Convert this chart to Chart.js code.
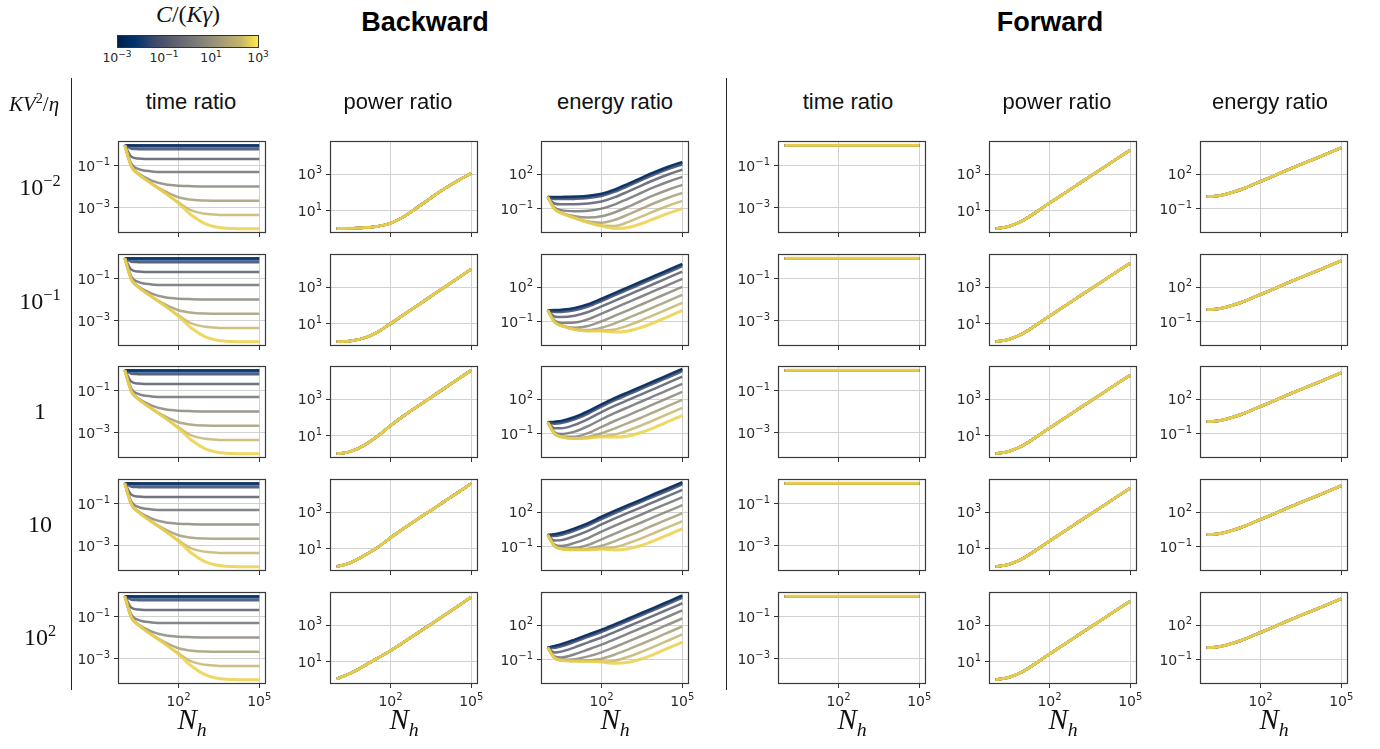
<!DOCTYPE html>
<html>
<head>
<meta charset="utf-8">
<title>Backward / Forward ratios vs N_h</title>
<script src="https://cdn.jsdelivr.net/npm/chart.js@4.4.1/dist/chart.umd.min.js"></script>
<style>
  html, body { margin: 0; padding: 0; background: #fff; }
  #page { position: relative; width: 1380px; height: 749px; overflow: hidden; font-family: "DejaVu Sans", sans-serif; color: #1a1a1a; }
  .txt { position: absolute; white-space: nowrap; transform: translate(-50%, -50%); line-height: 1; }
  .head { font-family: "Liberation Sans", Arial, sans-serif; font-weight: bold; font-size: 27px; color: #000; }
  .coltitle { font-family: "Liberation Sans", Arial, sans-serif; font-size: 22px; color: #111; }
  .math { font-family: "Liberation Serif", "DejaVu Serif", serif; color: #111; }
  .math sup, .math sub { font-size: 68%; }
  .cbtick { font-size: 12.5px; color: #262626; }
  .cbtick sup { font-size: 9px; vertical-align: 5px; }
  .vline { position: absolute; width: 1px; background: #222; }
  canvas.panel { position: absolute; }
  #cbar { position: absolute; left: 117px; top: 35px; width: 140px; height: 11px; border: 1px solid #333;
          background: linear-gradient(to right, #00204d 0%, #00336f 12.5%, #39486b 25%, #575c6d 37.5%, #707173 50%, #8a8779 62.5%, #a69d75 75%, #c4b56c 87.5%, #ffea46 100%); }
</style>
</head>
<body>
<div id="page"></div>
<script>
// ==========================================================================
// Data (stored as log10 exponents)
// ==========================================================================
const N_H = [1, 1.778, 3.162, 10, 31.62, 100, 316.2, 1000, 3162, 10000, 31620, 100000];

// C/(K gamma) of each curve, dark blue -> yellow
const C_VALUES = [0.001, 0.00562, 0.0316, 0.178, 1, 5.62, 31.6, 178, 1000];

const ROW_LABELS = ['10<sup>\u22122</sup>', '10<sup>\u22121</sup>', '1', '10', '10<sup>2</sup>'];
const COL_TITLES = ['time ratio', 'power ratio', 'energy ratio', 'time ratio', 'power ratio', 'energy ratio'];

// tick values and their exponents (label = 10^exp)
const X_TICKS = [100, 100000];
const X_TICK_EXP = ['2', '5'];
const TIME_TICKS = [0.1, 0.001];
const TIME_TICK_EXP = ['\u22121', '\u22123'];
const POWER_TICKS = [1000, 10];
const POWER_TICK_EXP = ['3', '1'];
const ENERGY_TICKS = [100, 0.1];
const ENERGY_TICK_EXP = ['2', '\u22121'];
const CBAR_TICK_EXP = ['\u22123', '\u22121', '1', '3'];

// backward time ratio, same in every row
const timeBwd = [
  [0, 0, 0, 0, 0, 0, 0, 0, 0, 0, 0, 0],
  [0, -0.05, -0.06, -0.06, -0.06, -0.06, -0.06, -0.06, -0.06, -0.06, -0.06, -0.06],
  [0, -0.17, -0.19, -0.2, -0.2, -0.2, -0.2, -0.2, -0.2, -0.2, -0.2, -0.2],
  [0, -0.56, -0.64, -0.67, -0.67, -0.67, -0.67, -0.67, -0.67, -0.67, -0.67, -0.67],
  [0, -0.9, -1.14, -1.26, -1.29, -1.29, -1.29, -1.29, -1.29, -1.29, -1.29, -1.29],
  [0, -1.02, -1.35, -1.7, -1.88, -1.95, -1.97, -1.98, -1.98, -1.98, -1.98, -1.98],
  [0, -1.03, -1.38, -1.84, -2.22, -2.5, -2.62, -2.66, -2.67, -2.67, -2.67, -2.67],
  [0, -1.03, -1.38, -1.85, -2.3, -2.75, -3.15, -3.3, -3.35, -3.36, -3.36, -3.36],
  [0, -1.03, -1.38, -1.85, -2.3, -2.79, -3.38, -3.78, -3.96, -4.01, -4.02, -4.02]
];

// backward power ratio, one curve per row (all C overlap)
const powerBwd1 = [0.02, 0.02, 0.03, 0.06, 0.13, 0.31, 0.68, 1.18, 1.7, 2.2, 2.65, 3.05];
const powerBwd2 = [0, 0.02, 0.05, 0.2, 0.52, 1.0, 1.5, 2.0, 2.5, 3.0, 3.5, 4.0];
const powerBwd3 = [0, 0.05, 0.12, 0.45, 0.95, 1.55, 2.1, 2.6, 3.1, 3.6, 4.1, 4.6];
const powerBwd4 = [0.02, 0.1, 0.22, 0.6, 1.05, 1.6, 2.12, 2.62, 3.1, 3.6, 4.08, 4.58];
const powerBwd5 = [0.05, 0.2, 0.35, 0.75, 1.18, 1.6, 2.08, 2.57, 3.06, 3.55, 4.05, 4.55];

// backward energy ratio, per row, per C
const energyBwd1 = [
  [0.02, 0.02, 0.03, 0.06, 0.13, 0.31, 0.68, 1.18, 1.7, 2.2, 2.65, 3.05],
  [0.02, -0.03, -0.03, 0, 0.07, 0.25, 0.62, 1.12, 1.64, 2.14, 2.59, 2.99],
  [0.02, -0.15, -0.16, -0.14, -0.07, 0.11, 0.48, 0.98, 1.5, 2.0, 2.45, 2.85],
  [0.02, -0.54, -0.61, -0.61, -0.54, -0.36, 0.01, 0.51, 1.03, 1.53, 1.98, 2.38],
  [0.02, -0.88, -1.11, -1.2, -1.16, -0.98, -0.61, -0.11, 0.41, 0.91, 1.36, 1.76],
  [0.02, -1.0, -1.32, -1.64, -1.75, -1.64, -1.29, -0.8, -0.28, 0.22, 0.67, 1.07],
  [0.02, -1.01, -1.35, -1.78, -2.09, -2.19, -1.94, -1.48, -0.97, -0.47, -0.02, 0.38],
  [0.02, -1.01, -1.35, -1.79, -2.17, -2.44, -2.47, -2.12, -1.65, -1.16, -0.71, -0.31],
  [0.02, -1.01, -1.35, -1.79, -2.17, -2.48, -2.7, -2.6, -2.26, -1.81, -1.37, -0.97]
];
const energyBwd2 = [
  [0, 0.02, 0.05, 0.2, 0.52, 1.0, 1.5, 2.0, 2.5, 3.0, 3.5, 4.0],
  [0, -0.03, -0.01, 0.14, 0.46, 0.94, 1.44, 1.94, 2.44, 2.94, 3.44, 3.94],
  [0, -0.15, -0.14, 0, 0.32, 0.8, 1.3, 1.8, 2.3, 2.8, 3.3, 3.8],
  [0, -0.54, -0.59, -0.47, -0.15, 0.33, 0.83, 1.33, 1.83, 2.33, 2.83, 3.33],
  [0, -0.88, -1.09, -1.06, -0.77, -0.29, 0.21, 0.71, 1.21, 1.71, 2.21, 2.71],
  [0, -1.0, -1.3, -1.5, -1.36, -0.95, -0.47, 0.02, 0.52, 1.02, 1.52, 2.02],
  [0, -1.01, -1.33, -1.64, -1.7, -1.5, -1.12, -0.66, -0.17, 0.33, 0.83, 1.33],
  [0, -1.01, -1.33, -1.65, -1.78, -1.75, -1.65, -1.3, -0.85, -0.36, 0.14, 0.64],
  [0, -1.01, -1.33, -1.65, -1.78, -1.79, -1.88, -1.78, -1.46, -1.01, -0.52, -0.02]
];
const energyBwd3 = [
  [0, 0.05, 0.12, 0.45, 0.95, 1.55, 2.1, 2.6, 3.1, 3.6, 4.1, 4.6],
  [0, 0, 0.06, 0.39, 0.89, 1.49, 2.04, 2.54, 3.04, 3.54, 4.04, 4.54],
  [0, -0.12, -0.07, 0.25, 0.75, 1.35, 1.9, 2.4, 2.9, 3.4, 3.9, 4.4],
  [0, -0.51, -0.52, -0.22, 0.28, 0.88, 1.43, 1.93, 2.43, 2.93, 3.43, 3.93],
  [0, -0.85, -1.02, -0.81, -0.34, 0.26, 0.81, 1.31, 1.81, 2.31, 2.81, 3.31],
  [0, -0.97, -1.23, -1.25, -0.93, -0.4, 0.13, 0.62, 1.12, 1.62, 2.12, 2.62],
  [0, -0.98, -1.26, -1.39, -1.27, -0.95, -0.52, -0.06, 0.43, 0.93, 1.43, 1.93],
  [0, -0.98, -1.26, -1.4, -1.35, -1.2, -1.05, -0.7, -0.25, 0.24, 0.74, 1.24],
  [0, -0.98, -1.26, -1.4, -1.35, -1.24, -1.28, -1.18, -0.86, -0.41, 0.08, 0.58]
];
const energyBwd4 = [
  [0.02, 0.1, 0.22, 0.6, 1.05, 1.6, 2.12, 2.62, 3.1, 3.6, 4.08, 4.58],
  [0.02, 0.05, 0.16, 0.54, 0.99, 1.54, 2.06, 2.56, 3.04, 3.54, 4.02, 4.52],
  [0.02, -0.07, 0.03, 0.4, 0.85, 1.4, 1.92, 2.42, 2.9, 3.4, 3.88, 4.38],
  [0.02, -0.46, -0.42, -0.07, 0.38, 0.93, 1.45, 1.95, 2.43, 2.93, 3.41, 3.91],
  [0.02, -0.8, -0.92, -0.66, -0.24, 0.31, 0.83, 1.33, 1.81, 2.31, 2.79, 3.29],
  [0.02, -0.92, -1.13, -1.1, -0.83, -0.35, 0.15, 0.64, 1.12, 1.62, 2.1, 2.6],
  [0.02, -0.93, -1.16, -1.24, -1.17, -0.9, -0.5, -0.04, 0.43, 0.93, 1.41, 1.91],
  [0.02, -0.93, -1.16, -1.25, -1.25, -1.15, -1.03, -0.68, -0.25, 0.24, 0.72, 1.22],
  [0.02, -0.93, -1.16, -1.25, -1.25, -1.19, -1.26, -1.16, -0.86, -0.41, 0.06, 0.56]
];
const energyBwd5 = [
  [0.05, 0.2, 0.35, 0.75, 1.18, 1.6, 2.08, 2.57, 3.06, 3.55, 4.05, 4.55],
  [0.05, 0.15, 0.29, 0.69, 1.12, 1.54, 2.02, 2.51, 3.0, 3.49, 3.99, 4.49],
  [0.05, 0.03, 0.16, 0.55, 0.98, 1.4, 1.88, 2.37, 2.86, 3.35, 3.85, 4.35],
  [0.05, -0.36, -0.29, 0.08, 0.51, 0.93, 1.41, 1.9, 2.39, 2.88, 3.38, 3.88],
  [0.05, -0.7, -0.79, -0.51, -0.11, 0.31, 0.79, 1.28, 1.77, 2.26, 2.76, 3.26],
  [0.05, -0.82, -1.0, -0.95, -0.7, -0.35, 0.11, 0.59, 1.08, 1.57, 2.07, 2.57],
  [0.05, -0.83, -1.03, -1.09, -1.04, -0.9, -0.54, -0.09, 0.39, 0.88, 1.38, 1.88],
  [0.05, -0.83, -1.03, -1.1, -1.12, -1.15, -1.07, -0.73, -0.29, 0.19, 0.69, 1.19],
  [0.05, -0.83, -1.03, -1.1, -1.12, -1.19, -1.3, -1.21, -0.9, -0.46, 0.03, 0.53]
];

// forward: every C gives the same curve
const timeFwd = [0, 0, 0, 0, 0, 0, 0, 0, 0, 0, 0, 0];
const powerFwd = [0.02, 0.06, 0.14, 0.45, 0.92, 1.42, 1.9, 2.4, 2.88, 3.36, 3.85, 4.33];
const energyFwd = [0.05, 0.08, 0.15, 0.45, 0.88, 1.36, 1.85, 2.35, 2.83, 3.3, 3.78, 4.27];

// ==========================================================================
// Layout / style
// ==========================================================================
const COL_LEFT = [118, 330, 541, 778, 989, 1200];
const ROW_TOP = [141, 254, 366, 479, 592];
const PANEL_W = 148, PANEL_H = 92;
const PAD_L = 62, PAD_T = 8, PAD_R = 16, PAD_B = 28;
const TITLE_X = [191, 398, 615, 848, 1057, 1270];
const ROW_LABEL_Y = [186, 300, 411, 524, 636];

const X_MIN = Math.pow(10, -0.25), X_MAX = Math.pow(10, 5.25);
const Y_TIME = [-4.221, 0.201];
const Y_POWER = [-0.23, 4.83];
const Y_ENERGY = [-3.08, 4.85];

// cividis samples for the 9 curves
const LINE_COLORS = [
  'rgba(0,32,77,0.85)', 'rgba(0,51,111,0.85)', 'rgba(57,72,107,0.85)',
  'rgba(87,92,109,0.85)', 'rgba(112,113,115,0.85)', 'rgba(138,135,121,0.85)',
  'rgba(166,157,117,0.85)', 'rgba(196,181,108,0.85)', 'rgba(236,208,72,0.85)'
];

const TICK_COLOR = '#2b2b2b';
const BASE_FONT = '14px "DejaVu Sans"';
const EXP_FONT = '10px "DejaVu Sans"';

const page = document.getElementById('page');

function addText(html, x, y, cls, extra) {
  const d = document.createElement('div');
  d.className = 'txt ' + cls;
  d.innerHTML = html;
  d.style.left = x + 'px';
  d.style.top = y + 'px';
  if (extra) Object.assign(d.style, extra);
  page.appendChild(d);
}

// spines on all four sides
const framePlugin = {
  id: 'frame',
  afterDraw(chart) {
    const a = chart.chartArea, c = chart.ctx;
    c.save();
    c.strokeStyle = '#3a3a3a';
    c.lineWidth = 1.2;
    c.strokeRect(Math.round(a.left) + 0.5, Math.round(a.top) + 0.5,
                 Math.round(a.right - a.left) - 1, Math.round(a.bottom - a.top) - 1);
    c.restore();
  }
};

// "10^n" tick labels with a raised exponent, placed with the scales
function drawPow(c, exp, xRight, yBase) {
  c.font = EXP_FONT;
  const we = c.measureText(exp).width;
  c.font = BASE_FONT;
  const wb = c.measureText('10').width;
  c.fillText('10', xRight - we - wb, yBase);
  c.font = EXP_FONT;
  c.fillText(exp, xRight - we, yBase - 6);
  return wb + we;
}

const powLabelPlugin = {
  id: 'powLabels',
  afterDraw(chart, args, opts) {
    const c = chart.ctx, a = chart.chartArea;
    c.save();
    c.fillStyle = TICK_COLOR;
    c.textAlign = 'left';
    c.textBaseline = 'alphabetic';
    const ys = chart.scales.y;
    opts.yTicks.forEach((v, i) => {
      const py = ys.getPixelForValue(v);
      drawPow(c, opts.yExp[i], a.left - 8, py + 5);
    });
    if (opts.showX) {
      const xs = chart.scales.x;
      X_TICKS.forEach((v, i) => {
        const px = xs.getPixelForValue(v);
        c.font = EXP_FONT;
        const we = c.measureText(X_TICK_EXP[i]).width;
        c.font = BASE_FONT;
        const wb = c.measureText('10').width;
        drawPow(c, X_TICK_EXP[i], px + (wb + we) / 2, a.bottom + 22);
      });
    }
    c.restore();
  }
};

function makePanel(col, row, curves, yRange, yTicks, yExp) {
  const canvas = document.createElement('canvas');
  canvas.className = 'panel';
  canvas.width = PAD_L + PANEL_W + PAD_R;
  canvas.height = PAD_T + PANEL_H + PAD_B;
  canvas.style.left = (COL_LEFT[col] - PAD_L) + 'px';
  canvas.style.top = (ROW_TOP[row] - PAD_T) + 'px';
  page.appendChild(canvas);

  const showX = row === ROW_TOP.length - 1;
  const last = curves.length - 1;
  // yellow curve first so it ends up drawn on top
  const datasets = curves.map((exps, k) => ({
    data: exps.map((e, i) => ({ x: N_H[i], y: Math.pow(10, e) })),
    borderColor: LINE_COLORS[k],
    borderWidth: k === last ? 3 : 2.5,
    pointRadius: 0,
    fill: false,
    cubicInterpolationMode: 'monotone'
  })).reverse();

  const grid = { color: '#d2d2d2', lineWidth: 1, tickColor: '#333', tickLength: 4, drawTicks: true };

  new Chart(canvas, {
    type: 'line',
    data: { datasets },
    options: {
      responsive: false,
      animation: false,
      devicePixelRatio: 1,
      events: [],
      layout: { padding: { left: 0, top: PAD_T, right: PAD_R, bottom: 0 } },
      plugins: {
        legend: { display: false }, tooltip: { enabled: false },
        powLabels: { yTicks, yExp, showX }
      },
      scales: {
        x: {
          type: 'logarithmic', min: X_MIN, max: X_MAX, bounds: 'data',
          afterBuildTicks: s => { s.ticks = X_TICKS.map(v => ({ value: v })); },
          afterFit: s => { s.height = PAD_B; s.paddingLeft = 0; s.paddingRight = 0; },
          ticks: { autoSkip: false, maxRotation: 0, callback: () => '' },
          grid, border: { display: false }
        },
        y: {
          type: 'logarithmic', min: Math.pow(10, yRange[0]), max: Math.pow(10, yRange[1]), bounds: 'data',
          afterBuildTicks: s => { s.ticks = yTicks.map(v => ({ value: v })); },
          afterFit: s => { s.width = PAD_L; s.paddingTop = 0; s.paddingBottom = 0; },
          ticks: { callback: () => '' },
          grid, border: { display: false }
        }
      }
    },
    plugins: [framePlugin, powLabelPlugin]
  });
}

// ==========================================================================
// Build
// ==========================================================================
const powerBwdRows = [powerBwd1, powerBwd2, powerBwd3, powerBwd4, powerBwd5];
const energyBwdRows = [energyBwd1, energyBwd2, energyBwd3, energyBwd4, energyBwd5];

for (let r = 0; r < ROW_TOP.length; r++) {
  makePanel(0, r, timeBwd, Y_TIME, TIME_TICKS, TIME_TICK_EXP);
  makePanel(1, r, C_VALUES.map(() => powerBwdRows[r]), Y_POWER, POWER_TICKS, POWER_TICK_EXP);
  makePanel(2, r, energyBwdRows[r], Y_ENERGY, ENERGY_TICKS, ENERGY_TICK_EXP);
  makePanel(3, r, C_VALUES.map(() => timeFwd), Y_TIME, TIME_TICKS, TIME_TICK_EXP);
  makePanel(4, r, C_VALUES.map(() => powerFwd), Y_POWER, POWER_TICKS, POWER_TICK_EXP);
  makePanel(5, r, C_VALUES.map(() => energyFwd), Y_ENERGY, ENERGY_TICKS, ENERGY_TICK_EXP);
}

// headings
addText('Backward', 425, 22, 'head');
addText('Forward', 1050, 22, 'head');
COL_TITLES.forEach((t, i) => addText(t, TITLE_X[i], 102, 'coltitle'));
ROW_LABELS.forEach((t, i) => addText(t, 40, ROW_LABEL_Y[i], 'math', { fontSize: '24px' }));
addText('<i>KV</i><sup>2</sup>/<i>\u03b7</i>', 34, 103, 'math', { fontSize: '21px' });
COL_LEFT.forEach(x => addText('<i>N</i><sub><i>h</i></sub>', x + PANEL_W / 2, 722, 'math', { fontSize: '29px' }));

// colour bar
const cbar = document.createElement('div');
cbar.id = 'cbar';
page.appendChild(cbar);
addText('<i>C</i>/(<i>K\u03b3</i>)', 188, 14, 'math', { fontSize: '24px' });
CBAR_TICK_EXP.forEach((e, i) => addText('10<sup>' + e + '</sup>', 117 + i * 47, 57, 'cbtick'));

// separators
[71, 726].forEach(x => {
  const v = document.createElement('div');
  v.className = 'vline';
  v.style.left = x + 'px';
  v.style.top = '78px';
  v.style.height = '612px';
  page.appendChild(v);
});
</script>
</body>
</html>
